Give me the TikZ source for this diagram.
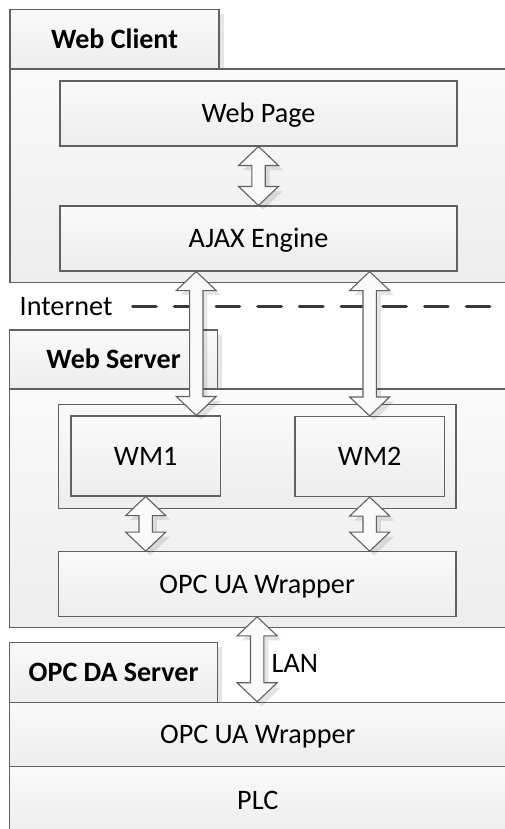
\documentclass[tikz,border=0pt]{standalone}
\usepackage{fontspec}
\setmainfont{Carlito}
\usetikzlibrary{calc,shadows}
\tikzset{
  basefont/.style={font=\fontsize{28.2}{34}\selectfont, text height=18pt, text depth=0pt},
  box/.style={draw=black!62, line width=1.1pt, top color=black!2, bottom color=black!7,
    inner sep=0pt, basefont},
  tabbox/.style={box, font=\fontsize{28}{34}\selectfont\bfseries,
    drop shadow={shadow xshift=4.5pt, shadow yshift=-4.5pt, fill=black, opacity=0.10}},
  blockarrow/.style={draw=black!62, line width=1.1pt, fill=black!2,
    drop shadow={shadow xshift=4.5pt, shadow yshift=-4.5pt, fill=black, opacity=0.10}},
  netline/.style={draw=black!78, line width=3.2pt, dash pattern=on 23.5pt off 18.2pt, line cap=round},
  plain/.style={basefont, inner sep=0pt}
}
% \mybox[style]{name}{x1}{y1}{x2}{y2}{text}
\newcommand\mybox[7][box]{%
  \node[#1, minimum width={(#5-#3)*1pt}, minimum height={(#6-#4)*1pt}]
    (#2) at ({(#3+#5)/2},{(#4+#6)/2}) {#7};}
\newcommand\dblarr[2]{%
  \path[blockarrow] let \p1=#1, \p2=#2 in
    (\x1,\y1) -- (\x1+20pt,\y1-19pt) -- (\x1+6.7pt,\y1-19pt) -- (\x1+6.7pt,\y2+19pt)
    -- (\x1+20pt,\y2+19pt) -- (\x1,\y2) -- (\x1-20pt,\y2+19pt) -- (\x1-6.7pt,\y2+19pt)
    -- (\x1-6.7pt,\y1-19pt) -- (\x1-20pt,\y1-19pt) -- cycle;}
\begin{document}
\begin{tikzpicture}[x=1pt,y=-1pt]
\useasboundingbox[fill=white] (0,0) rectangle (504,829);

% Web Client
\mybox[tabbox]{wct}{10}{9.5}{219}{69}{Web Client}
\mybox{wc}{10}{69}{506}{282.5}{}
\mybox{wp}{60}{81}{457}{146}{Web Page}
\mybox{ajax}{60}{206}{457}{271}{AJAX Engine}

% Internet
\node[plain, anchor=west] (inet) at (19.5,306.7) {Internet};
\coordinate (dashend) at (506,307.3);
\draw[netline] ([xshift=20pt]inet.east) -- (inet.east -| dashend);

% Web Server
\mybox[tabbox]{wst}{9.5}{330}{217.7}{389}{Web Server}
\mybox{ws}{9.5}{389}{506}{627.7}{}
\mybox{grp}{58.3}{404.7}{456}{508.7}{}
\mybox{wm1}{71}{416}{220.3}{496}{WM1}
\mybox{wm2}{295}{416.5}{444.3}{496.5}{WM2}
\mybox{opcs}{58.3}{551.7}{456}{616.3}{OPC UA Wrapper}

% OPC DA Server
\mybox[tabbox]{dat}{9.5}{642.7}{217.7}{702.3}{OPC DA Server}
\mybox{opcl}{9.5}{702.3}{506}{766.7}{OPC UA Wrapper}
\mybox{plc}{9.5}{766.7}{506}{833.3}{PLC}

% arrows
\coordinate (a2b) at ([xshift=-24.6pt]wm1.north east);
\coordinate (a2t) at (a2b |- ajax.south);
\dblarr{(wp.south)}{(ajax.north)}
\dblarr{(a2t)}{(a2b)}
\dblarr{(wm2.north |- ajax.south)}{(wm2.north)}
\dblarr{(wm1.south)}{(wm1.south |- opcs.north)}
\dblarr{(wm2.south)}{(wm2.south |- opcs.north)}
\dblarr{(opcs.south)}{(opcs.south |- opcl.north)}

\node[plain, anchor=west] (lan) at (271.5,663.3) {LAN};
\end{tikzpicture}
\end{document}
